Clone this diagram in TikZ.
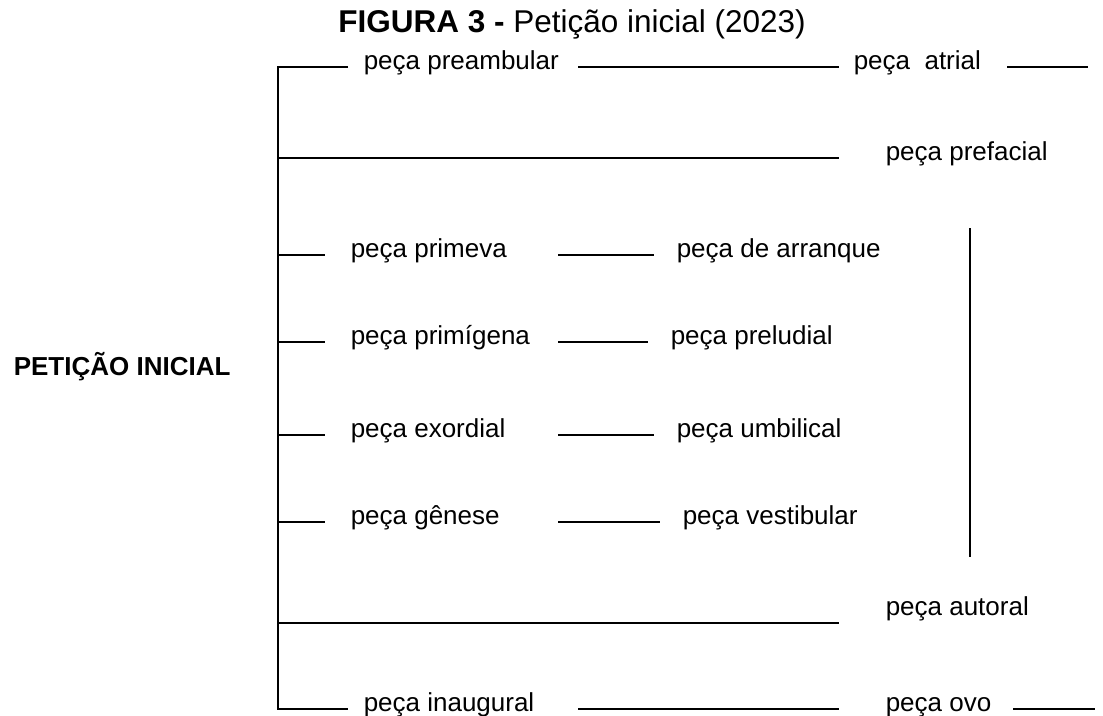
\documentclass[tikz,border=0pt]{standalone}
\usepackage{fontspec}
\setmainfont{Liberation Sans}
\usetikzlibrary{calc}

\begin{document}
\begin{tikzpicture}[x=1pt, y=-1pt, line width=1.5pt]
			\tikzstyle{peca}=[anchor=mid west, inner sep=0pt, font=\fontsize{26}{30}\selectfont]
			\useasboundingbox (0,0) rectangle (1103,715);
			%Title
			\node[anchor=base, inner sep=0pt, font=\fontsize{31.5}{36}\selectfont](titulo) at (572,32){\textbf{FIGURA 3 -} Petição inicial (2023)};
			\node[peca, font=\fontsize{26}{30}\selectfont\bfseries](pi) at (13,373){PETIÇÃO INICIAL};
			%Spine
			\coordinate (s1) at (278,67);
			\coordinate (s2) at (278,158);
			\coordinate (s7) at (278,623);
			\coordinate (s8) at (278,709);
			%First Row
			\node[peca](preamb) at (363,67){peça preambular};
			\node[peca](atrial) at (853,67){peça\ \ atrial};
			\coordinate (fim1) at (1088,67);
			%Second Row
			\node[peca](prefac) at (885,158){peça prefacial};
			%Middle Rows
			\foreach \n/\y/\rx/\ta/\tb in {3/255/676/peça primeva/peça de arranque,
				4/342/670/peça primígena/peça preludial,
				5/435/676/peça exordial/peça umbilical,
				6/522/682/peça gênese/peça vestibular}{
				\coordinate (s\n) at (278,\y);
				\node[peca](l\n) at (350,\y){\ta};
				\node[peca](r\n) at (\rx,\y){\tb};
				\draw (s\n) -- ($(l\n.mid west)+(-25,0)$);
				\draw ($(l\n.mid west)+(208,0)$) -- ($(r\n.mid west)+(-22,0)$);
			}
			%Seventh Row
			\node[peca](autoral) at (885,613){peça autoral};
			%Last Row
			\node[peca](inaug) at (363,709){peça inaugural};
			\node[peca](ovo) at (885,709){peça ovo};
			\coordinate (fim8) at (1095,709);
			%Bar
			\coordinate (b1) at (970,228);
			\coordinate (b2) at (970,557);
			%Lines
			\draw ($(preamb.mid west)+(-15,0)$) -- (s1) -- (s8) -- ($(inaug.mid west)+(-15,0)$);
			\draw ($(preamb.mid west)+(215,0)$) -- ($(atrial.mid west)+(-14,0)$);
			\draw ($(atrial.mid west)+(154,0)$) -- (fim1);
			\draw (s2) -- ($(prefac.mid west)+(-46,0)$);
			\draw (s7) -- ($(autoral.mid west)+(-46,10)$);
			\draw ($(inaug.mid west)+(215,0)$) -- ($(ovo.mid west)+(-46,0)$);
			\draw ($(ovo.mid west)+(128,0)$) -- (fim8);
			\draw (b1) -- (b2);
			\end{tikzpicture}
\end{document}
